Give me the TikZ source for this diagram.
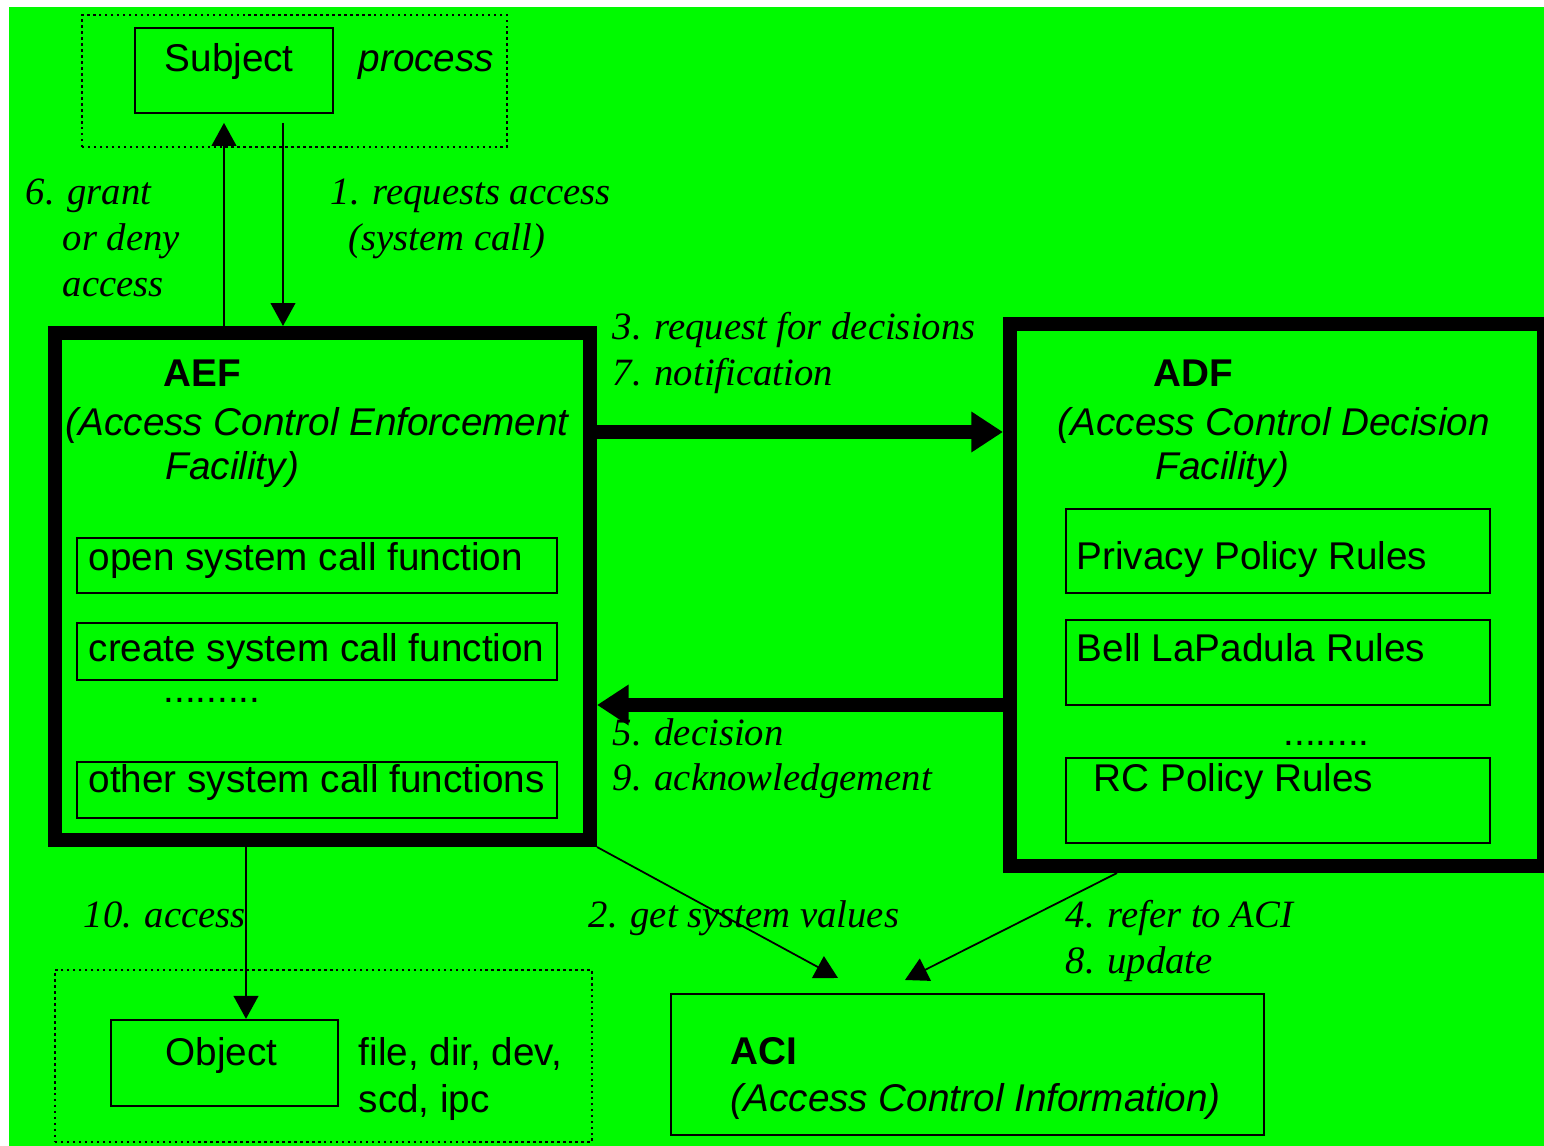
\documentclass[tikz,border=0pt]{standalone}
\usepackage{fontspec}
\setmainfont{Liberation Serif}
\setsansfont{Liberation Sans}
\usetikzlibrary{arrows.meta,positioning,fit}
\definecolor{scrgreen}{RGB}{0,250,0}

\tikzset{
  thinbox/.style={draw, line width=0.65pt, inner sep=0pt},
  thickbox/.style={draw, line width=4pt, inner sep=0pt},
  dotbox/.style={draw, densely dotted, line width=0.7pt, inner sep=0pt},
  txt/.style={anchor=base west, inner sep=0pt, font=\fontsize{11}{13}\selectfont\sffamily},
  itxt/.style={txt, font=\fontsize{11}{13}\selectfont\sffamily\itshape},
  hdr/.style={txt, font=\fontsize{11}{13}\selectfont\sffamily\bfseries},
  numlbl/.style={anchor=base west, inner sep=0pt, font=\fontsize{11}{13}\selectfont\itshape},
  thinarrow/.style={-{Triangle[length=6.5pt,width=7pt]}, line width=0.5pt},
  fatarrow/.style={-{Triangle[length=9pt,width=11pt]}, line width=4pt},
}

\begin{document}
\begin{tikzpicture}[x=0.01cm, y=-0.01cm]
    \clip (0,0) rectangle (1544,1146);
    \fill[white] (0,0) rectangle (1544,1146);
    \fill[scrgreen] (9,7) rectangle (1544,1146);

    % subject
    \node (subjgrp) [dotbox, fit={(82,15) (507,147)}] {};
    \node (subj) [thinbox, fit={(135,28) (333,113)}] {};
    \node (subjtxt) [txt] at (164,72) {Subject};
    \node (proctxt) [itxt] at (358,72) {process};

    % AEF
    \node (aef) [thickbox, fit={(55,333) (590,840)}] {};
    \node (aefhdr) [hdr] at (163,387) {AEF};
    \node (aefname) [itxt] at (65,436) {(Access Control Enforcement};
    \node (aefname2) [itxt] at (165,480) {Facility)};
    \node (open) [thinbox, fit={(77,538) (557,593)}] {};
    \node (opentxt) [txt] at (88,571) {open system call function};
    \node (create) [thinbox, fit={(77,623) (557,680)}] {};
    \node (createtxt) [txt] at (88,662) {create system call function};
    \node (aefdots) [txt] at (163,703) {.........};
    \node (other) [thinbox, fit={(77,762) (557,818)}] {};
    \node (othertxt) [txt] at (88,793) {other system call functions};

    % ADF
    \node (adf) [thickbox, fit={(1010,324) (1544,866)}] {};
    \node (adfhdr) [hdr] at (1153,387) {ADF};
    \node (adfname) [itxt] at (1057,436) {(Access Control Decision};
    \node (adfname2) [itxt] at (1155,480) {Facility)};
    \node (priv) [thinbox, fit={(1066,509) (1490,593)}] {};
    \node (privtxt) [txt] at (1076,570) {Privacy Policy Rules};
    \node (blp) [thinbox, fit={(1066,620) (1490,705)}] {};
    \node (blptxt) [txt] at (1076,662) {Bell LaPadula Rules};
    \node (adfdots) [txt] at (1283,746) {........};
    \node (rc) [thinbox, fit={(1066,758) (1490,843)}] {};
    \node (rctxt) [txt] at (1093,792) {RC Policy Rules};

    % ACI and object
    \node (aci) [thinbox, fit={(671,994) (1264,1135)}] {};
    \node (acihdr) [hdr] at (730,1065) {ACI};
    \node (aciname) [itxt] at (730,1112) {(Access Control Information)};
    \node (objgrp) [dotbox, fit={(55,970) (592,1142)}] {};
    \node (obj) [thinbox, fit={(111,1020) (338,1106)}] {};
    \node (objtxt) [txt] at (165,1066) {Object};
    \node (objkind) [txt] at (358,1066) {file, dir, dev,};
    \node (objkind2) [txt] at (358,1113) {scd, ipc};

    % connectors
    \coordinate (grantx) at (224,0);
    \coordinate (reqx) at (283,0);
    \coordinate (accx) at (246,0);
    \coordinate (refx) at (1117,0);
    \coordinate (reqy) at (0,432);
    \coordinate (decy) at (0,705);
    \coordinate (acil) at (838,978);
    \coordinate (acir) at (905,980);
    \draw[thinarrow, shorten >=2.5pt] (aef.north -| grantx) -- (subj.south -| grantx);
    \draw[thinarrow, shorten <=2.5pt] (subj.south -| reqx) -- (aef.north -| reqx);
    \draw[fatarrow] (aef.east |- reqy) -- (adf.west |- reqy);
    \draw[fatarrow] (adf.west |- decy) -- (aef.east |- decy);
    \draw[thinarrow] (aef.south east) -- (acil);
    \draw[thinarrow] (adf.south -| refx) -- (acir);
    \draw[thinarrow] (aef.south -| accx) -- (obj.north -| accx);

    % step labels
    \node (l6) [numlbl] at (25,205) {6. grant};
    \node (l6b) [numlbl] at (62,251) {or deny};
    \node (l6c) [numlbl] at (62,297) {access};
    \node (l1) [numlbl] at (330,205) {1. requests access};
    \node (l1b) [numlbl] at (348,251) {(system call)};
    \node (l3) [numlbl] at (612,340) {3. request for decisions};
    \node (l7) [numlbl] at (612,386) {7. notification};
    \node (l5) [numlbl] at (612,746) {5. decision};
    \node (l9) [numlbl] at (612,791) {9. acknowledgement};
    \node (l10) [numlbl] at (83,928) {10. access};
    \node (l2) [numlbl] at (588,928) {2. get system values};
    \node (l4) [numlbl] at (1065,928) {4. refer to ACI};
    \node (l8) [numlbl] at (1065,974) {8. update};
\end{tikzpicture}
\end{document}
